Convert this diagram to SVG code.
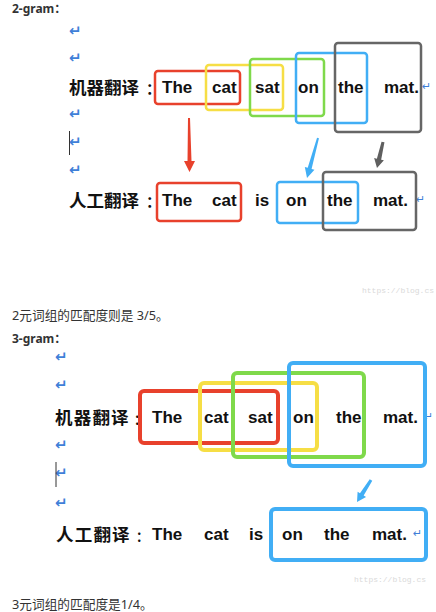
<svg xmlns="http://www.w3.org/2000/svg" width="436" height="612" viewBox="0 0 436 612">
<style>
  .h { font-family: "Noto Sans", "Liberation Sans", "Noto Sans CJK SC", sans-serif; font-weight: bold; font-size: 12px; fill: #333; }
  .p { font-family: "Noto Sans", "Liberation Sans", "Noto Sans CJK SC", sans-serif; font-size: 12.7px; fill: #333; }
  .zh { font-family: "Noto Sans CJK SC", sans-serif; font-weight: bold; font-size: 17.5px; fill: #111; }
  .en { font-family: "Liberation Sans", Arial, sans-serif; font-weight: bold; font-size: 17px; fill: #111; }
  .ret { font-family: "DejaVu Sans", sans-serif; font-weight: bold; font-size: 15px; fill: #3f7fd8; }
  .ret2 { font-family: "DejaVu Sans", sans-serif; font-size: 11px; fill: #3f7fd8; }
  .wm { font-family: "Liberation Mono", monospace; font-size: 8px; fill: #d9d9d9; }
  .cur { stroke: #333; stroke-width: 1; }
  .b2 { fill: none; stroke-width: 2.5; }
  .b3 { fill: none; stroke-width: 4; }
  .red { stroke: #e8412c; }
  .yel { stroke: #f6de45; }
  .grn { stroke: #7fd94b; }
  .blu { stroke: #41aef5; }
  .gry { stroke: #666; }
</style>

<!-- 2-gram section -->
<g id="heading-2gram"><text class="h" x="12" y="13">2-gram：</text></g>
<g id="returns-2gram">
  <text class="ret" x="69" y="36">↵</text>
  <text class="ret" x="69" y="63">↵</text>
  <text class="ret" x="69" y="119">↵</text>
  <text class="ret" x="69" y="147">↵</text>
  <text class="ret" x="69" y="175">↵</text>
  <line class="cur" x1="69.5" y1="131" x2="69.5" y2="155"/>
</g>
<g id="mt-2gram">
  <text class="zh" x="69" y="94">机器翻译<tspan x="146" font-size="15">：</tspan></text>
  <text class="en" y="93"><tspan x="162">The</tspan><tspan x="212">cat</tspan><tspan x="255">sat</tspan><tspan x="298">on</tspan><tspan x="338">the</tspan><tspan x="384">mat.</tspan></text>
  <text class="ret2" x="422" y="90">↵</text>
</g>
<g id="ht-2gram">
  <text class="zh" x="69" y="207">人工翻译<tspan x="146" font-size="15">：</tspan></text>
  <text class="en" y="206"><tspan x="162">The</tspan><tspan x="212">cat</tspan><tspan x="255">is</tspan><tspan x="286">on</tspan><tspan x="327">the</tspan><tspan x="373">mat.</tspan></text>
  <text class="ret2" x="416" y="203">↵</text>
</g>
<g id="boxes-2gram-mt">
  <rect class="b2 red" x="155" y="71" width="85" height="33" rx="3"/>
  <rect class="b2 yel" x="206" y="65" width="77" height="45" rx="3"/>
  <rect class="b2 grn" x="250" y="59" width="74" height="57" rx="3"/>
  <rect class="b2 blu" x="296" y="53" width="71" height="70" rx="3"/>
  <rect class="b2 gry" x="335" y="43" width="86" height="89" rx="3"/>
</g>
<g id="boxes-2gram-ht">
  <rect class="b2 red" x="157" y="183" width="84" height="38" rx="3"/>
  <rect class="b2 blu" x="277" y="182" width="81" height="41" rx="3"/>
  <rect class="b2 gry" x="323" y="172" width="93" height="58" rx="3"/>
</g>
<text class="wm" x="362" y="293">https://blog.cs</text>
<g id="result-2gram"><text class="p" x="12" y="320">2元词组的匹配度则是 3/5。</text></g>

<!-- 3-gram section -->
<g id="heading-3gram"><text class="h" x="12" y="343">3-gram：</text></g>
<g id="returns-3gram">
  <text class="ret" x="55" y="362">↵</text>
  <text class="ret" x="55" y="390">↵</text>
  <text class="ret" x="55" y="450">↵</text>
  <text class="ret" x="55" y="478">↵</text>
  <text class="ret" x="55" y="508">↵</text>
  <line class="cur" x1="56" y1="462" x2="56" y2="487"/>
</g>
<g id="mt-3gram">
  <text class="zh" x="55" y="424" letter-spacing="1.2">机器翻译<tspan x="134" font-size="13" letter-spacing="0">：</tspan></text>
  <text class="en" y="423"><tspan x="152">The</tspan><tspan x="204">cat</tspan><tspan x="248">sat</tspan><tspan x="293">on</tspan><tspan x="336">the</tspan><tspan x="383">mat.</tspan></text>
  <text class="ret2" x="424" y="420">↵</text>
</g>
<g id="ht-3gram">
  <text class="zh" x="56" y="541" letter-spacing="1.2">人工翻译<tspan x="136" font-size="13" letter-spacing="0">：</tspan></text>
  <text class="en" y="540"><tspan x="152">The</tspan><tspan x="204">cat</tspan><tspan x="249">is</tspan><tspan x="282">on</tspan><tspan x="324">the</tspan><tspan x="372">mat.</tspan></text>
  <text class="ret2" x="413" y="537">↵</text>
</g>
<g id="boxes-3gram-mt">
  <rect class="b3 red" x="140" y="391" width="138" height="52" rx="4"/>
  <rect class="b3 yel" x="200" y="383" width="117" height="67" rx="4"/>
  <rect class="b3 grn" x="233" y="373" width="131" height="84" rx="4"/>
  <rect class="b3 blu" x="289" y="363" width="136" height="103" rx="4"/>
</g>
<g id="boxes-3gram-ht">
  <rect class="b3 blu" x="271" y="509" width="155" height="51" rx="4"/>
</g>
<text class="wm" x="354" y="582">https://blog.cs</text>
<g id="result-3gram"><text class="p" x="12" y="609">3元词组的匹配度是1/4。</text></g>

<!-- connectors -->
<g id="connectors">
  <polygon fill="#e8412c" points="190,118 191.5,161 195,161 189.5,172 184,161 187.5,161 188,118"/>
  <polygon fill="#41aef5" points="318.96,138.27 311.58,168.89 314.47,169.68 307,178 304.83,167.04 307.72,167.83 317.04,137.73"/>
  <polygon fill="#5f5f5f" points="384.46,142.34 381.16,159.73 383.89,160.36 377,168 374.15,158.11 376.88,158.73 381.54,141.66"/>
  <polygon fill="#41aef5" points="372.27,480.81 363.69,495.59 366.05,497.1 357,502 357.61,491.73 359.97,493.23 369.73,479.19"/>
</g>
</svg>
